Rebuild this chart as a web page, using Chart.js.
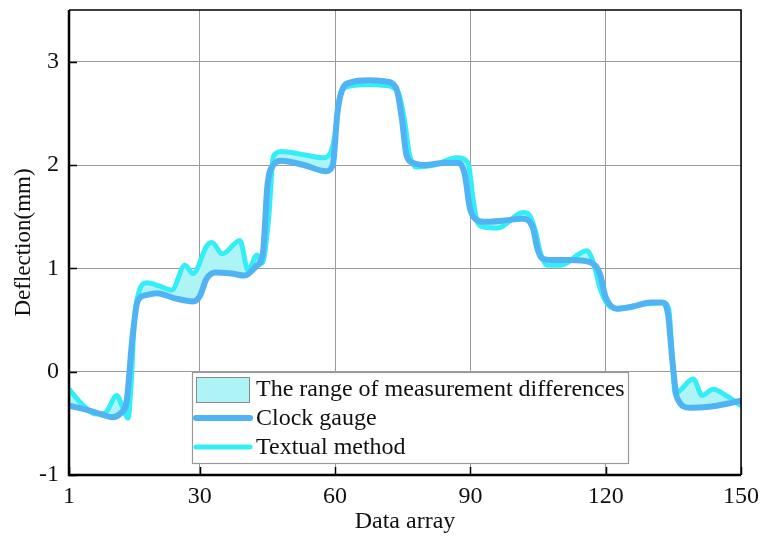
<!DOCTYPE html>
<html><head><meta charset="utf-8">
<script src="https://cdn.jsdelivr.net/npm/chart.js@4/dist/chart.umd.min.js"></script>
<style>html,body{margin:0;padding:0;background:#fff;}canvas{display:block;}</style>
</head><body>
<canvas id="c" width="761" height="541"></canvas>
<script>
const xTickValues = [1, 30, 60, 90, 120, 150];
const yTickValues = [-1, 0, 1, 2, 3];
const legendLabels = ['The range of measurement differences', 'Clock gauge', 'Textual method'];

const clockX = [1, 5, 8, 10.5, 12.5, 13.8, 15, 16.2, 18, 20.5, 24.5, 28.5, 30, 31.5, 33.5, 37, 40, 42.5, 44, 45, 46.3, 48, 53, 58, 59.5, 60.5, 61.5, 63.5, 67.5, 71, 73.5, 74.8, 75.8, 77.3, 80, 84, 87.5, 88.8, 89.8, 90.8, 93, 97, 101.5, 103.8, 104.8, 105.8, 108, 112, 116.5, 118.7, 120, 122.5, 126, 130, 132.5, 133.8, 134.8, 135.8, 138.7, 143, 147, 150];
const clockY = [-0.33, -0.37, -0.41, -0.44, -0.40, -0.28, 0.3, 0.68, 0.74, 0.76, 0.71, 0.68, 0.73, 0.9, 0.96, 0.95, 0.93, 1.02, 1.15, 1.8, 2.0, 2.04, 2.0, 1.94, 2.0, 2.5, 2.72, 2.8, 2.82, 2.81, 2.75, 2.45, 2.1, 2.02, 2.0, 2.02, 2.02, 1.9, 1.6, 1.49, 1.45, 1.46, 1.48, 1.40, 1.2, 1.1, 1.08, 1.08, 1.06, 0.95, 0.72, 0.61, 0.63, 0.67, 0.67, 0.56, 0.1, -0.25, -0.35, -0.34, -0.31, -0.28];

const textX = [1, 4, 7, 9, 11.6, 13, 14.1, 14.8, 15.5, 16.5, 18.3, 21, 23.8, 26.7, 28.5, 31.6, 32.7, 35, 38.9, 40.7, 42.7, 43.8, 45.3, 46.3, 48, 53, 57.3, 59, 60, 61, 63, 67.5, 71, 74, 75.5, 76.5, 78, 82, 87, 89.5, 90.5, 91.5, 93, 96, 101.7, 103, 104.5, 105.5, 107, 110, 115.8, 117.3, 118.8, 120.3, 122.5, 128, 132.7, 134, 134.8, 135.4, 139.4, 141.4, 143.8, 147, 150];
const textY = [-0.17, -0.32, -0.41, -0.40, -0.23, -0.36, -0.45, -0.1, 0.5, 0.77, 0.86, 0.83, 0.79, 1.03, 0.95, 1.22, 1.25, 1.14, 1.27, 0.98, 1.13, 1.05, 1.5, 2.08, 2.13, 2.1, 2.07, 2.12, 2.3, 2.65, 2.76, 2.78, 2.77, 2.7, 2.4, 2.1, 1.98, 2.0, 2.07, 2.02, 1.7, 1.45, 1.40, 1.39, 1.54, 1.52, 1.35, 1.15, 1.03, 1.03, 1.17, 1.05, 0.8, 0.66, 0.61, 0.65, 0.67, 0.6, 0.1, -0.21, -0.07, -0.23, -0.17, -0.24, -0.33];

const FONT = "'Liberation Serif','Times New Roman',serif";
const BLUE = '#50b4f4';
const CYAN = '#33eef6';
const FILL = '#aef4f7';

function pts(xs, ys) { return xs.map((x, i) => ({ x: x, y: ys[i] })); }

const framePlugin = {
  id: 'frame',
  afterDatasetsDraw(chart) {
    const { ctx, chartArea: a, scales } = chart;
    ctx.save();
    ctx.strokeStyle = '#000';
    ctx.lineWidth = 1.5;
    xTickValues.forEach(v => {
      const px = Math.round(scales.x.getPixelForValue(v)) + 0.5;
      ctx.beginPath(); ctx.moveTo(px, a.bottom); ctx.lineTo(px, a.bottom - 8); ctx.stroke();
    });
    yTickValues.forEach(v => {
      const py = Math.round(scales.y.getPixelForValue(v)) + 0.5;
      ctx.beginPath(); ctx.moveTo(a.left, py); ctx.lineTo(a.left + 8, py); ctx.stroke();
    });
    ctx.lineWidth = 1.5;
    ctx.beginPath();
    ctx.moveTo(a.left, a.top); ctx.lineTo(a.right, a.top); ctx.lineTo(a.right, a.bottom);
    ctx.stroke();
    ctx.lineWidth = 2.5;
    ctx.beginPath();
    ctx.moveTo(a.left, a.top); ctx.lineTo(a.left, a.bottom); ctx.lineTo(a.right, a.bottom);
    ctx.stroke();
    ctx.restore();
  },
  afterDraw(chart) {
    const { ctx, chartArea: a } = chart;
    const L = a.left + 123, T = a.top + 362, W = 436, H = 91;
    ctx.save();
    ctx.fillStyle = '#fff';
    ctx.fillRect(L, T, W, H);
    ctx.strokeStyle = '#9a9a9a';
    ctx.lineWidth = 1.2;
    ctx.strokeRect(L + 0.5, T + 0.5, W, H);
    const rowH = 29, y0 = T + 17;
    ctx.fillStyle = FILL;
    ctx.fillRect(L + 4, y0 - 12, 53, 25);
    ctx.strokeStyle = '#8a8a8a';
    ctx.lineWidth = 1;
    ctx.strokeRect(L + 4.5, y0 - 11.5, 53, 25);
    ctx.lineCap = 'round';
    ctx.lineWidth = 6;
    ctx.strokeStyle = BLUE;
    ctx.beginPath(); ctx.moveTo(L + 4, y0 + rowH); ctx.lineTo(L + 58, y0 + rowH); ctx.stroke();
    ctx.lineWidth = 5;
    ctx.strokeStyle = CYAN;
    ctx.beginPath(); ctx.moveTo(L + 4, y0 + 2 * rowH); ctx.lineTo(L + 58, y0 + 2 * rowH); ctx.stroke();
    ctx.fillStyle = '#111';
    ctx.font = '24px ' + FONT;
    ctx.textBaseline = 'middle';
    ctx.textAlign = 'left';
    legendLabels.forEach((t, i) => ctx.fillText(t, L + 64, y0 + i * rowH + 1));
    ctx.restore();
  }
};

new Chart(document.getElementById('c'), {
  type: 'line',
  data: {
    datasets: [
      {
        label: legendLabels[1],
        data: pts(clockX, clockY),
        borderColor: BLUE,
        borderWidth: 6,
        pointRadius: 0,
        cubicInterpolationMode: 'monotone',
        fill: false
      },
      {
        label: legendLabels[2],
        data: pts(textX, textY),
        borderColor: CYAN,
        borderWidth: 5,
        pointRadius: 0,
        cubicInterpolationMode: 'monotone',
        backgroundColor: FILL,
        fill: { target: 0 }
      }
    ]
  },
  options: {
    responsive: false,
    animation: false,
    layout: { padding: { top: 10, right: 20, left: 0, bottom: 0 } },
    plugins: { legend: { display: false }, tooltip: { enabled: false } },
    scales: {
      x: {
        type: 'linear', min: 1, max: 150,
        afterBuildTicks: s => { s.ticks = xTickValues.map(v => ({ value: v })); },
        afterFit: s => { s.height = 66; s.paddingLeft = 0; s.paddingRight = 0; },
        grid: { color: '#9a9a9a', lineWidth: 1, drawTicks: false },
        border: { display: false },
        ticks: { font: { family: FONT, size: 24 }, color: '#111', padding: 7, maxRotation: 0 },
        title: { display: true, text: 'Data array', font: { family: FONT, size: 24 }, color: '#111', padding: { top: 0, bottom: 5 } }
      },
      y: {
        min: -1, max: 3.5,
        afterBuildTicks: s => { s.ticks = yTickValues.map(v => ({ value: v })); },
        afterFit: s => { s.width = 69; s.paddingTop = 0; s.paddingBottom = 0; },
        grid: { color: '#9a9a9a', lineWidth: 1, drawTicks: false },
        border: { display: false },
        ticks: { font: { family: FONT, size: 24 }, color: '#111', padding: 10 },
        title: { display: true, text: 'Deflection(mm)', font: { family: FONT, size: 23 }, color: '#111', padding: { top: 10, bottom: 0 } }
      }
    }
  },
  plugins: [framePlugin]
});
</script>
</body></html>
